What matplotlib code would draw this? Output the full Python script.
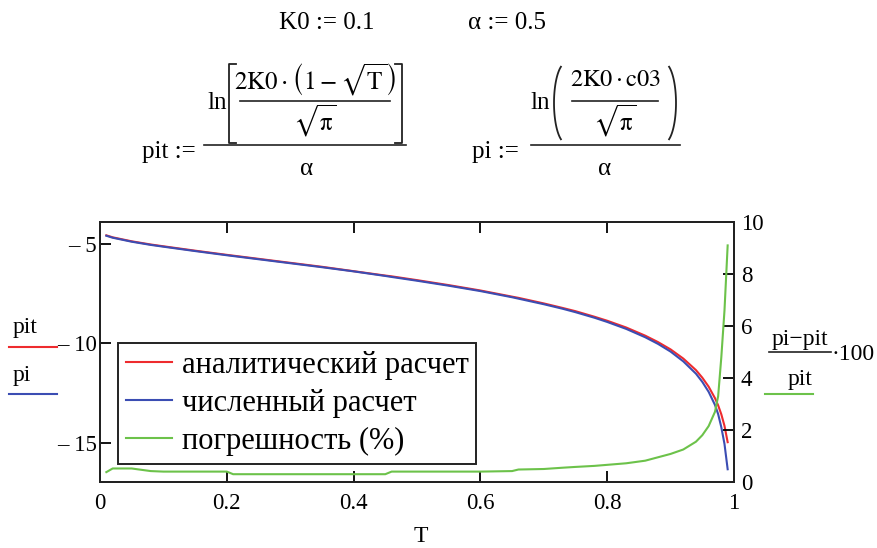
import matplotlib
matplotlib.use("Agg")
import numpy as np
import matplotlib.pyplot as plt
from matplotlib.lines import Line2D

plt.rcParams['font.family'] = ['Liberation Serif', 'DejaVu Serif']
plt.rcParams['mathtext.fontset'] = 'stix'

# sample points of T
T = [0.01, 0.02, 0.05, 0.08, 0.1, 0.15, 0.2, 0.21, 0.25, 0.3, 0.35, 0.4, 0.45,
     0.46, 0.5, 0.55, 0.6, 0.65, 0.66, 0.7, 0.73, 0.75, 0.78, 0.8, 0.83, 0.86,
     0.88, 0.9, 0.92, 0.94, 0.95, 0.96, 0.97, 0.975, 0.98, 0.985, 0.99]

# analytical solution pit(T)
pit = [-4.57, -4.67, -4.87, -5.03, -5.12, -5.34, -5.55, -5.59, -5.75, -5.95,
       -6.15, -6.37, -6.59, -6.63, -6.82, -7.07, -7.34, -7.65, -7.71, -7.99,
       -8.22, -8.38, -8.66, -8.86, -9.20, -9.61, -9.93, -10.30, -10.76, -11.34,
       -11.72, -12.17, -12.75, -13.11, -13.56, -14.14, -14.96]

# numerical solution pi(T)
pi_num = [-4.59, -4.69, -4.89, -5.05, -5.14, -5.36, -5.57, -5.61, -5.77, -5.97,
          -6.17, -6.38, -6.61, -6.66, -6.85, -7.10, -7.37, -7.68, -7.75, -8.03,
          -8.26, -8.43, -8.71, -8.92, -9.27, -9.69, -10.02, -10.41, -10.90, -11.52,
          -11.93, -12.43, -13.09, -13.55, -14.21, -15.05, -16.32]

# relative error, %
err = [0.38, 0.52, 0.52, 0.42, 0.40, 0.40, 0.40, 0.30, 0.30, 0.30, 0.30, 0.30,
       0.30, 0.40, 0.40, 0.40, 0.40, 0.42, 0.48, 0.50, 0.55, 0.58, 0.62, 0.66,
       0.72, 0.82, 0.95, 1.08, 1.25, 1.55, 1.80, 2.15, 2.70, 3.30, 4.80, 6.60, 9.10]

x_ticks = [0, 0.2, 0.4, 0.6, 0.8, 1]
x_labels = ['0', '0.2', '0.4', '0.6', '0.8', '1']
left_ticks = [-5, -10, -15]
left_labels = ['– 5', '– 10', '– 15']
right_ticks = [0, 2, 4, 6, 8, 10]

RED = '#ee2b2e'
BLUE = '#3b4db3'
GREEN = '#6cc24a'
INK = '#222222'
W, H = 877, 548


def fx(px):
    return px / W


def fy(py):
    return 1 - py / H


def hline(x0, x1, y, color=INK, lw=1.2):
    fig.add_artist(Line2D([fx(x0), fx(x1)], [fy(y), fy(y)], color=color, lw=lw))


def text(x, y, s, size=17, ha='center'):
    fig.text(fx(x), fy(y), s, fontsize=size, ha=ha, va='center')


def paren(cx, cy, rx, ry, left=True):
    # tall round bracket as part of an ellipse, in pixel units
    a = np.radians(np.linspace(115, 245, 40))
    if not left:
        a = np.pi - a
    xs = [fx(cx + rx * np.cos(t)) for t in a]
    ys = [fy(cy + ry * np.sin(t)) for t in a]
    fig.add_artist(Line2D(xs, ys, color=INK, lw=1.3))


fig = plt.figure(figsize=(8.77, 5.48), dpi=100)
ax = fig.add_axes([fx(100), fy(482), fx(734) - fx(100), fy(222) - fy(482)])
ax2 = ax.twinx()

ax.plot(T, pit, color=RED, lw=1.5, label='аналитический расчет')
ax.plot(T, pi_num, color=BLUE, lw=1.5, label='численный расчет')
ax2.plot(T, err, color=GREEN, lw=1.5, label='погрешность (%)')

ax.set_xlim(0, 1)
ax.set_ylim(-16.96, -3.9)
ax2.set_ylim(0, 10)

ax.set_xticks(x_ticks)
ax.set_xticklabels(x_labels, fontsize=16.5)
ax.set_yticks(left_ticks)
ax.set_yticklabels(left_labels, fontsize=16.5)
ax2.set_yticks(right_ticks)
ax2.set_yticklabels([str(v) for v in right_ticks], fontsize=16.5)

ax.tick_params(axis='x', direction='in', length=8, width=1.3, top=True, pad=8)
ax.tick_params(axis='y', direction='in', length=8, width=1.3, pad=2)
ax2.tick_params(axis='y', direction='in', length=8, width=1.3, pad=5)
for a in (ax, ax2):
    for s in a.spines.values():
        s.set_linewidth(1.4)
        s.set_color(INK)

handles = ax.get_lines() + ax2.get_lines()
leg = ax2.legend(handles, [h.get_label() for h in handles], loc='lower left',
                 bbox_to_anchor=(0.028, 0.069), borderaxespad=0, fontsize=22,
                 handlelength=1.5, handletextpad=0.33, labelspacing=0.3,
                 borderpad=0.26, fancybox=False, framealpha=1)
leg.get_frame().set_edgecolor(INK)
leg.get_frame().set_linewidth(1.4)

# axis titles with coloured keys underneath
text(421, 537, 'T')
text(25, 328, 'pit')
hline(9, 57, 347, RED, 1.5)
text(22, 376, 'pi')
hline(9, 57, 394, BLUE, 1.5)

text(800, 339, 'pi−pit')
hline(769, 831, 352)
text(800, 380, 'pit')
text(832, 354, '·100', ha='left')
hline(765, 813, 394, GREEN, 1.5)

# parameters
text(327, 23, 'K0 := 0.1', size=18)
text(507, 23, 'α := 0.5', size=18)

# pit := ln[ 2K0(1 - sqrt T) / sqrt pi ] / alpha
text(142, 152, 'pit :=', size=18, ha='left')
hline(204, 406, 145)
text(307, 169, 'α', size=18)
text(207, 103, 'ln', size=18, ha='left')
fig.add_artist(Line2D([fx(236), fx(229), fx(229), fx(236)],
                      [fy(64), fy(64), fy(143), fy(143)], color=INK, lw=1.3))
fig.add_artist(Line2D([fx(395), fx(402), fx(402), fx(395)],
                      [fy(64), fy(64), fy(143), fy(143)], color=INK, lw=1.3))
text(315, 80, r'$2\mathrm{K0}\cdot\left(1-\sqrt{\mathrm{T}}\right)$', size=18)
hline(240, 390, 101)
text(315, 121, r'$\sqrt{\mathrm{\pi}}$', size=18)

# pi := ln( 2K0*c03 / sqrt pi ) / alpha
text(472, 152, 'pi :=', size=18, ha='left')
hline(531, 680, 145)
text(605, 169, 'α', size=18)
text(530, 103, 'ln', size=18, ha='left')
paren(566, 103, 12, 40, left=True)
paren(664, 103, 12, 40, left=False)
text(615, 80, r'$2\mathrm{K0}\cdot\mathrm{c03}$', size=17.5)
hline(572, 658, 101)
text(615, 121, r'$\sqrt{\mathrm{\pi}}$', size=18)

fig.savefig('out.png', dpi=100)
